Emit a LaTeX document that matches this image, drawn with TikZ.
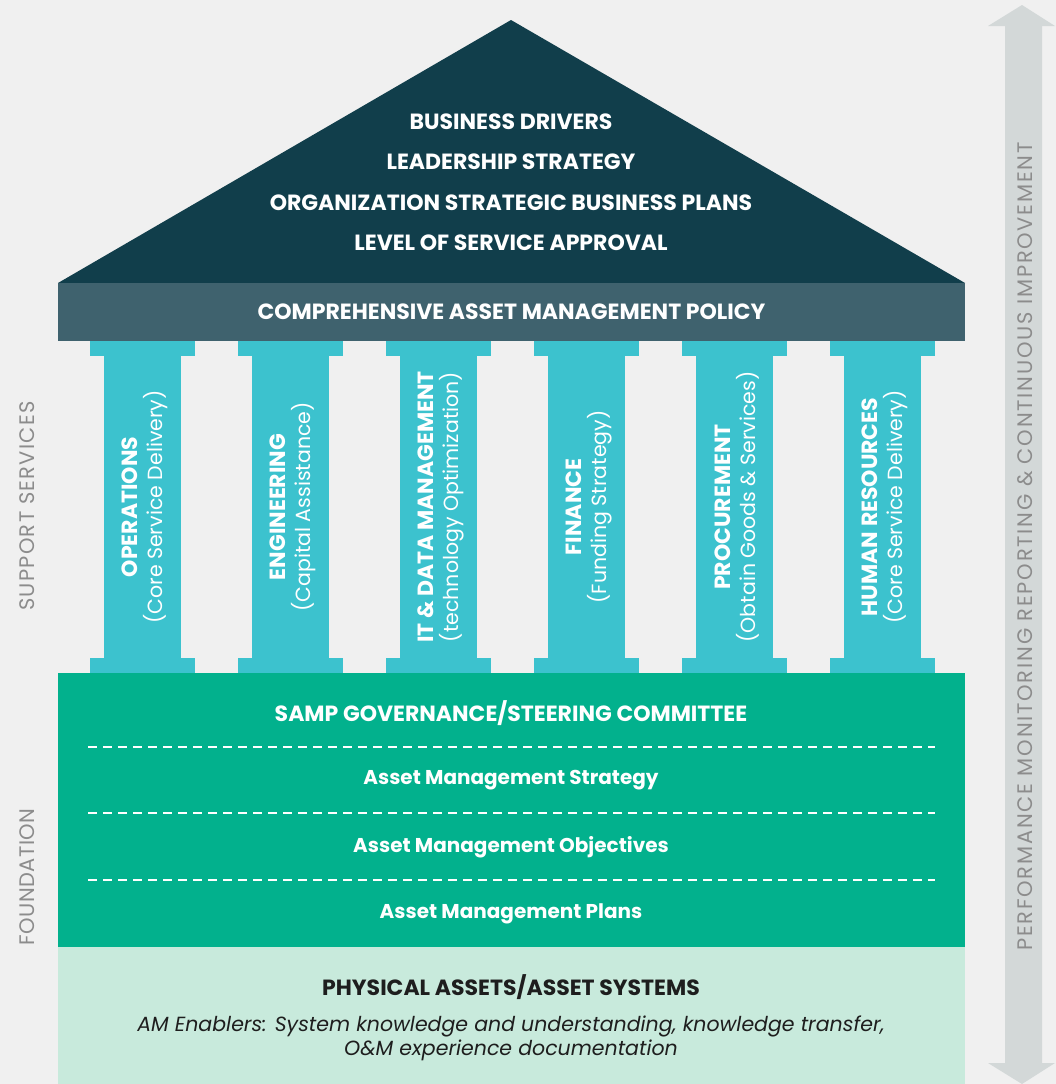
\documentclass[tikz,border=0pt]{standalone}
\usepackage{fontspec}
\setmainfont{Poppins}
\newfontfamily\spacedfont[LetterSpace=6]{Poppins}
\newfontfamily\tightfont[LetterSpace=2]{Poppins}
\newfontfamily\widefont[LetterSpace=8.5]{Poppins}
\usepackage{xcolor}
\usepackage{tikz}
\usetikzlibrary{positioning}
\definecolor{bg}{RGB}{240,240,240}
\definecolor{roofc}{RGB}{17,62,75}
\definecolor{policyc}{RGB}{63,98,110}
\definecolor{pillarc}{RGB}{60,194,206}
\definecolor{foundc}{RGB}{2,177,141}
\definecolor{basec}{RGB}{200,234,220}
\definecolor{sidegray}{RGB}{140,140,140}
\definecolor{arrowc}{RGB}{211,216,216}
\definecolor{inkc}{RGB}{30,30,30}

\begin{document}
\begin{tikzpicture}[x=1pt, y=-1pt,
  rooftxt/.style={text=white, inner sep=0pt, font=\bfseries\fontsize{22}{24}\selectfont},
  band/.style={rectangle, inner sep=0pt, minimum width=907pt},
  shaft/.style={rectangle, fill=pillarc, inner sep=0pt,
              minimum width=77pt, minimum height=302pt},
  capital/.style={rectangle, fill=pillarc, inner sep=0pt,
              minimum width=105pt, minimum height=15pt},
  pillartxt/.style={rotate=90, inner sep=0pt, align=center, text=white,
              font=\fontsize{20.5}{25}\selectfont},
  foundtxt/.style={text=white, inner sep=0pt, font=\bfseries\fontsize{20}{22}\selectfont},
  dashline/.style={white, line width=2pt, dash pattern=on 9pt off 6pt},
  sidelbl/.style={text=sidegray, inner sep=0pt, rotate=90,
              font=\spacedfont\fontsize{21}{22}\selectfont}
]
\useasboundingbox (0,0) rectangle (1056,1084);
\fill[bg] (0,0) rectangle (1056,1084);

% roof
\coordinate (apex) at (511,20);
\fill[roofc] (58,283) -- (apex) -- (965,283) -- cycle;
\node[rooftxt] (drivers) at (511,122) {BUSINESS DRIVERS};
\node[rooftxt] (leader) at (511,162) {LEADERSHIP STRATEGY};
\node[rooftxt] (plans) at (511,203) {ORGANIZATION STRATEGIC BUSINESS PLANS};
\node[rooftxt] (los) at (511,243) {LEVEL OF SERVICE APPROVAL};
\node[band, fill=policyc, minimum height=58pt, text=white,
      font=\bfseries\fontsize{22}{24}\selectfont] (policy) at (511.5,312)
      {COMPREHENSIVE ASSET MANAGEMENT POLICY};

% pillars
\foreach \p/\x in {ops/142,eng/290,itdm/438,fin/586,proc/734,hr/882} {
  \node[shaft] (\p) at (\x,507) {};
  \node[capital, anchor=south] (\p top) at (\p.north) {};
  \node[capital, anchor=north] (\p bot) at (\p.south) {};
}
\newcommand{\pname}[1]{{\bfseries\fontsize{22}{25}\selectfont #1}}
\node[pillartxt] (opstxt) at ([xshift=3pt]ops) {\pname{OPERATIONS}\\(Core Service Delivery)};
\node[pillartxt] (engtxt) at ([xshift=3pt]eng) {\pname{ENGINEERING}\\(Capital Assistance)};
\node[pillartxt] (itdmtxt) at ([xshift=3pt]itdm) {\pname{IT \& DATA MANAGEMENT}\\(technology Optimization)};
\node[pillartxt] (fintxt) at ([xshift=3pt]fin) {\pname{FINANCE}\\(Funding Strategy)};
\node[pillartxt] (proctxt) at ([xshift=3pt]proc) {\pname{PROCUREMENT}\\(Obtain Goods \& Services)};
\node[pillartxt] (hrtxt) at ([xshift=3pt]hr) {\pname{HUMAN RESOURCES}\\(Core Service Delivery)};

% foundation
\node[band, fill=foundc, minimum height=274pt] (found) at (511.5,810) {};
\node[foundtxt, font=\bfseries\fontsize{22}{24}\selectfont] (samp) at (511,713)
  {SAMP GOVERNANCE/STEERING COMMITTEE};
\node[foundtxt] (amstrat) at (511,780) {Asset Management Strategy};
\node[foundtxt] (amobj) at (511,847) {Asset Management Objectives};
\node[foundtxt] (amplans) at (511,914) {Asset Management Plans};
\draw[dashline] (88,747) -- (935,747);
\draw[dashline] (88,813) -- (935,813);
\draw[dashline] (88,880) -- (935,880);

% physical assets
\node[band, fill=basec, minimum height=137pt] (assets) at (511.5,1015.5) {};
\node[foundtxt, text=inkc, font=\bfseries\fontsize{22}{24}\selectfont] (phys) at (511,987)
  {PHYSICAL ASSETS/ASSET SYSTEMS};
\node[text=inkc, align=center, inner sep=0pt,
      font=\itshape\fontsize{20.5}{24}\selectfont] (enablers) at (511,1038)
      {AM Enablers: System knowledge and understanding, knowledge transfer,\\
       O\&M experience documentation};

% side labels
\node[sidelbl] (support) at (27,506) {SUPPORT SERVICES};
\node[sidelbl, font=\tightfont\fontsize{21}{22}\selectfont] (foundlbl) at (27,877) {FOUNDATION};

% performance arrow
\fill[arrowc] (1005,26) -- (988,26) -- (1022,5) -- (1055,26) -- (1042,26)
  -- (1042,1063) -- (1055,1063) -- (1022,1084) -- (988,1063) -- (1005,1063) -- cycle;
\node[sidelbl, font=\widefont\fontsize{21}{22}\selectfont] (perf) at (1025,546.5)
  {PERFORMANCE MONITORING REPORTING \& CONTINUOUS IMPROVEMENT};
\end{tikzpicture}
\end{document}
